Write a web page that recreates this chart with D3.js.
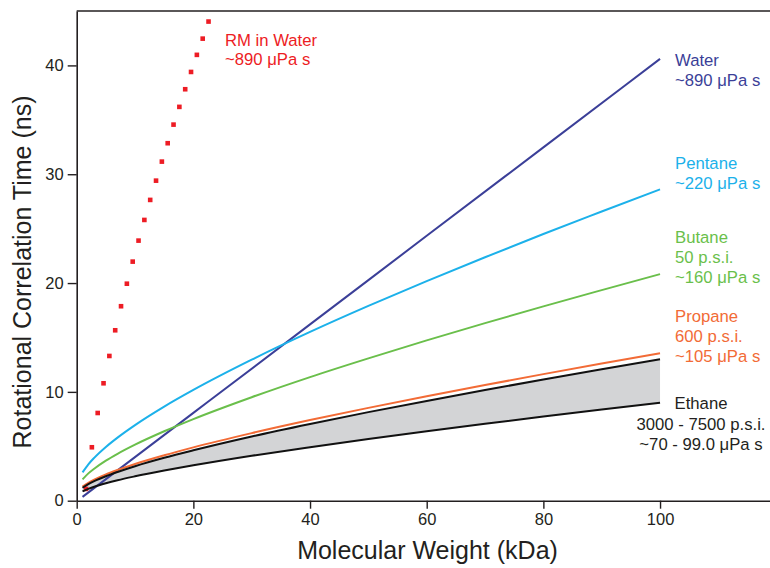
<!DOCTYPE html>
<html>
<head>
<meta charset="utf-8">
<script src="https://cdn.jsdelivr.net/npm/d3@7"></script>
<style>
  html, body { margin: 0; padding: 0; background: #fff; }
  svg { display: block; font-family: "Liberation Sans", Arial, Helvetica, sans-serif; }
</style>
</head>
<body>
<svg id="chart" width="770" height="568"></svg>
<script>
// Molecular weight (kDa) at which the solvent curves are sampled
const mass = [1, 2, 3, 5, 7, 10, 15, 20, 30, 40, 50, 60, 70, 80, 90, 100];

// Rotational correlation times (ns) of encapsulated proteins in each solvent
const pentane     = [2.60, 3.34, 3.94, 4.94, 5.80, 6.95, 8.65, 10.18, 12.96, 15.51, 17.90, 20.18, 22.37, 24.51, 26.57, 28.61];
const butane      = [1.96, 2.51, 2.94, 3.68, 4.31, 5.15, 6.38, 7.50, 9.51, 11.36, 13.08, 14.73, 16.32, 17.86, 19.35, 20.82];
const propane     = [1.29, 1.65, 1.93, 2.41, 2.82, 3.37, 4.17, 4.90, 6.21, 7.41, 8.53, 9.60, 10.63, 11.63, 12.60, 13.55];
const ethaneHigh  = [1.19, 1.53, 1.80, 2.25, 2.64, 3.17, 3.94, 4.63, 5.90, 7.05, 8.14, 9.17, 10.17, 11.14, 12.08, 13.00];
const ethaneLow   = [0.86, 1.09, 1.28, 1.60, 1.88, 2.24, 2.77, 3.25, 4.13, 4.92, 5.67, 6.38, 7.07, 7.73, 8.38, 9.01];

// Free protein in water
const waterMass = [1, 20, 40, 60, 80, 100];
const waterTau  = [0.35, 8.07, 16.20, 24.34, 32.47, 40.60];

// Reverse micelle in water
const rmMass = [1.6, 2.6, 3.6, 4.6, 5.6, 6.6, 7.6, 8.6, 9.6, 10.6, 11.6, 12.6, 13.6, 14.6, 15.6, 16.6, 17.6, 18.6, 19.6, 20.6, 21.6, 22.6];
const rmTau  = [1.08, 4.91, 8.06, 10.79, 13.30, 15.66, 17.87, 19.94, 21.97, 23.90, 25.80, 27.64, 29.41, 31.16, 32.85, 34.56, 36.19, 37.81, 39.40, 40.97, 42.46, 44.03];

// Axis ticks
const xTicks = [0, 20, 40, 60, 80, 100];
const yTicks = [0, 10, 20, 30, 40];

const svg = d3.select("#chart");
const ink = "#231f20";
const colors = {
  rm: "#ed1c24",
  water: "#3b3f98",
  pentane: "#1cb1ea",
  butane: "#6abf4b",
  propane: "#f26b36",
  ethane: "#111111",
  band: "#d3d4d6"
};

const x = d3.scaleLinear().domain([0, 118.85]).range([76.7, 770]);
const y = d3.scaleLinear().domain([0, 45]).range([500.7, 11]);

// Shaded ethane range (3000 - 7500 p.s.i.)
const band = mass.map((m, i) => ({ m, lo: ethaneLow[i], hi: ethaneHigh[i] }));
svg.append("path")
  .datum(band)
  .attr("fill", colors.band)
  .attr("d", d3.area().x(d => x(d.m)).y0(d => y(d.lo)).y1(d => y(d.hi)).curve(d3.curveMonotoneX));

// Reverse micelle points
svg.append("g").selectAll("rect")
  .data(rmMass.map((m, i) => ({ m, t: rmTau[i] })))
  .join("rect")
  .attr("x", d => x(d.m) - 2.3)
  .attr("y", d => y(d.t) - 2.3)
  .attr("width", 4.6)
  .attr("height", 4.6)
  .attr("fill", colors.rm);

const line = d3.line().x(d => x(d.m)).y(d => y(d.t)).curve(d3.curveMonotoneX);
function drawSeries(ms, ts, color) {
  svg.append("path")
    .datum(ms.map((m, i) => ({ m, t: ts[i] })))
    .attr("fill", "none")
    .attr("stroke", color)
    .attr("stroke-width", 2)
    .attr("d", line);
}
drawSeries(waterMass, waterTau, colors.water);
drawSeries(mass, pentane, colors.pentane);
drawSeries(mass, butane, colors.butane);
drawSeries(mass, ethaneLow, colors.ethane);
drawSeries(mass, propane, colors.propane);
drawSeries(mass, ethaneHigh, colors.ethane);

// Axes
const xAxis = svg.append("g")
  .attr("transform", `translate(0,${y(0)})`)
  .call(d3.axisBottom(x).tickValues(xTicks).tickSize(8).tickPadding(5).tickSizeOuter(0));
const yAxis = svg.append("g")
  .attr("transform", `translate(${x(0)},0)`)
  .call(d3.axisLeft(y).tickValues(yTicks).tickSize(9).tickPadding(4).tickSizeOuter(0));
[xAxis, yAxis].forEach(g => {
  g.select(".domain").attr("stroke", ink).attr("stroke-width", 1.6);
  g.selectAll(".tick line").attr("stroke", ink).attr("stroke-width", 1.4);
  g.selectAll(".tick text").attr("fill", ink).style("font-size", "16.5px")
    .style("font-family", "'Liberation Sans', Arial, sans-serif");
});

// Top frame line
svg.append("line")
  .attr("x1", x(0)).attr("x2", 770)
  .attr("y1", y(45)).attr("y2", y(45))
  .attr("stroke", ink).attr("stroke-width", 1.6);

// Axis titles
svg.append("text")
  .attr("x", 427.5).attr("y", 559)
  .attr("text-anchor", "middle")
  .attr("fill", ink)
  .style("font-size", "25px")
  .text("Molecular Weight (kDa)");
svg.append("text")
  .attr("transform", "translate(31,272) rotate(-90)")
  .attr("text-anchor", "middle")
  .attr("fill", ink)
  .style("font-size", "25px")
  .text("Rotational Correlation Time (ns)");

// Series labels, one text element per line
function label(lines, lx, baselines, color, anchor) {
  lines.forEach((s, i) => {
    svg.append("text")
      .attr("x", lx)
      .attr("y", baselines[i])
      .attr("fill", color)
      .attr("text-anchor", anchor || "start")
      .style("font-size", "16.7px")
      .text(s);
  });
}
const lx = x(100) + 15;
label(["RM in Water", "~890 \u03bcPa s"], 225, [46, 64.5], colors.rm);
label(["Water", "~890 \u03bcPa s"], lx, [65.7, 85.7], colors.water);
label(["Pentane", "~220 \u03bcPa s"], lx, [169.3, 189.3], colors.pentane);
label(["Butane", "50 p.s.i.", "~160 \u03bcPa s"], lx, [243, 263, 283.3], colors.butane);
label(["Propane", "600 p.s.i.", "~105 \u03bcPa s"], lx, [321.7, 341.7, 361.7], colors.propane);
label(["Ethane", "3000 - 7500 p.s.i.", "~70 - 99.0 \u03bcPa s"], 701, [408.5, 429.5, 450], ink, "middle");
</script>
</body>
</html>
